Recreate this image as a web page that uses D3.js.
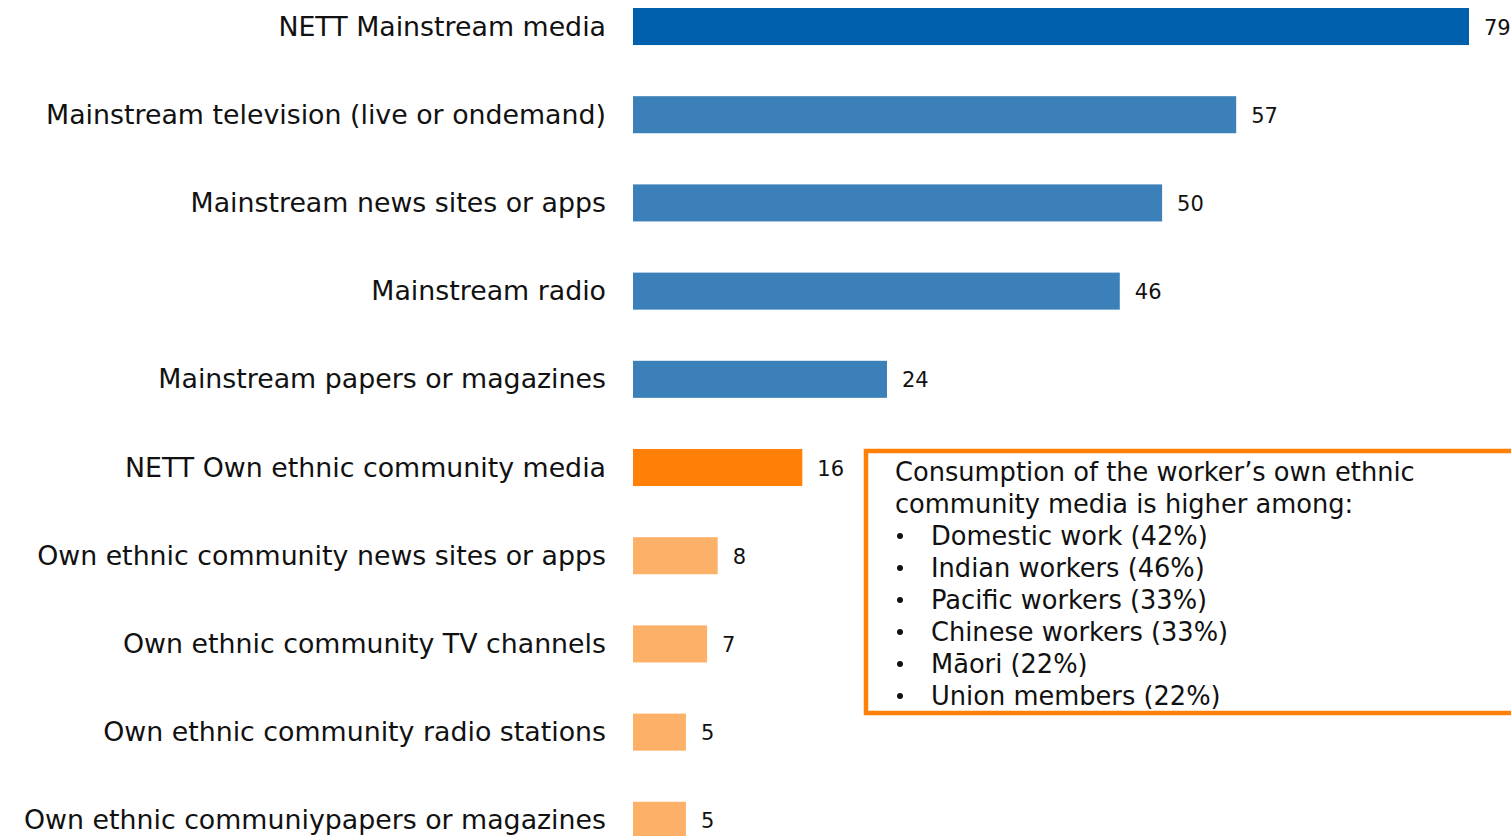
<!DOCTYPE html>
<html>
<head>
<meta charset="utf-8">
<script src="https://cdn.jsdelivr.net/npm/d3@7"></script>
<style>
  html, body { margin: 0; padding: 0; background: #fff; overflow: hidden; }
  svg { display: block; }
</style>
</head>
<body>
<svg id="chart" width="1511" height="836"></svg>
<script>
// Media sources used (%)
const categories = [
  "NETT Mainstream media",
  "Mainstream television (live or ondemand)",
  "Mainstream news sites or apps",
  "Mainstream radio",
  "Mainstream papers or magazines",
  "NETT Own ethnic community media",
  "Own ethnic community news sites or apps",
  "Own ethnic community TV channels",
  "Own ethnic community radio stations",
  "Own ethnic communiypapers or magazines"
];
const values = [79, 57, 50, 46, 24, 16, 8, 7, 5, 5];
const groups = ["nettMain", "main", "main", "main", "main", "nettOwn", "own", "own", "own", "own"];

const noteTitle = ["Consumption of the worker\u2019s own ethnic", "community media is higher among:"];
const noteItems = [
  "Domestic work (42%)",
  "Indian workers (46%)",
  "Pacific workers (33%)",
  "Chinese workers (33%)",
  "M\u0101ori (22%)",
  "Union members (22%)"
];

const colors = {
  nettMain: "#0060AE",
  main: "#3B80B9",
  nettOwn: "#FF7F07",
  own: "#FDB068"
};

const font = "'DejaVu Sans', 'Liberation Sans', sans-serif";
const svg = d3.select("#chart");

const x = d3.scaleLinear().domain([0, 79]).range([633, 1469]);
const y = d3.scaleBand()
  .domain(categories)
  .range([8, 8 + 88.2 * (categories.length - 0.58)])
  .paddingInner(0.58)
  .paddingOuter(0);

const rows = categories.map((c, i) => ({ c, v: values[i], g: groups[i] }));

// bars
svg.append("g").selectAll("rect")
  .data(rows)
  .join("rect")
  .attr("x", x(0))
  .attr("y", d => y(d.c))
  .attr("width", d => x(d.v) - x(0))
  .attr("height", y.bandwidth())
  .attr("fill", d => colors[d.g]);

// category labels
svg.append("g").selectAll("text")
  .data(rows)
  .join("text")
  .attr("x", 606)
  .attr("y", d => y(d.c) + y.bandwidth() / 2)
  .attr("dy", "0.34em")
  .attr("text-anchor", "end")
  .attr("font-family", font)
  .attr("font-size", 26.8)
  .attr("fill", "#111")
  .text(d => d.c);

// value labels
svg.append("g").selectAll("text")
  .data(rows)
  .join("text")
  .attr("x", d => x(d.v) + 15)
  .attr("y", d => y(d.c) + y.bandwidth() / 2)
  .attr("dy", "0.38em")
  .attr("font-family", font)
  .attr("font-size", 21)
  .attr("fill", "#111")
  .text(d => d.v);

// callout box
const note = svg.append("g");
note.append("rect")
  .attr("x", 866)
  .attr("y", 451)
  .attr("width", 700)
  .attr("height", 262)
  .attr("fill", "#fff")
  .attr("stroke", "#FF7F07")
  .attr("stroke-width", 4.5);

const lineH = 32;
const firstBase = 481;
noteTitle.forEach((t, i) => {
  note.append("text")
    .attr("x", 895)
    .attr("y", firstBase + i * lineH)
    .attr("font-family", font)
    .attr("font-size", 25.7)
    .attr("fill", "#111")
    .text(t);
});
noteItems.forEach((t, i) => {
  const by = firstBase + (i + noteTitle.length) * lineH;
  note.append("circle")
    .attr("cx", 900)
    .attr("cy", by - 9)
    .attr("r", 3)
    .attr("fill", "#111");
  note.append("text")
    .attr("x", 931)
    .attr("y", by)
    .attr("font-family", font)
    .attr("font-size", 25.7)
    .attr("fill", "#111")
    .text(t);
});
</script>
</body>
</html>
